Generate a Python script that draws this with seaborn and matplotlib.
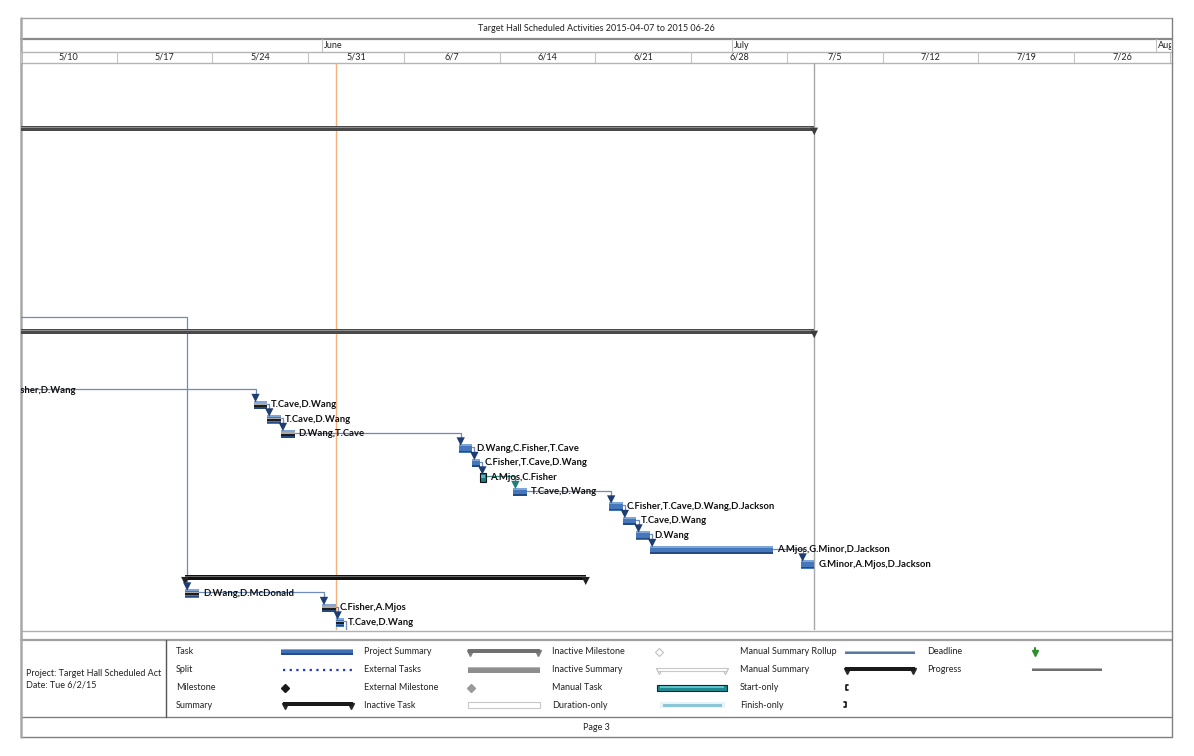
import matplotlib
matplotlib.use("Agg")
import matplotlib.pyplot as plt
import matplotlib.dates as mdates
import seaborn as sns
import pandas as pd
import numpy as np
from matplotlib.patches import Rectangle

# ---------------- data ----------------
TITLE = "Target Hall Scheduled Activities 2015-04-07 to 2015 06-26"
PROJECT_TXT = "Project: Target Hall Scheduled Act"
DATE_TXT = "Date: Tue 6/2/15"
PAGE_TXT = "Page 3"

view_start = "2015-05-10"
view_end = "2015-08-02 02:00"
status_date = "2015-06-02"
finish_date = "2015-07-07"

week_starts = ["2015-05-10", "2015-05-17", "2015-05-24", "2015-05-31", "2015-06-07",
               "2015-06-14", "2015-06-21", "2015-06-28", "2015-07-05", "2015-07-12",
               "2015-07-19", "2015-07-26"]
week_labels = ["5/10", "5/17", "5/24", "5/31", "6/7", "6/14", "6/21", "6/28",
               "7/5", "7/12", "7/19", "7/26"]
month_starts = ["2015-06-01", "2015-07-01", "2015-08-01"]
month_labels = ["June", "July", "August"]

task_rows = [4, 17, 18, 22, 23, 24, 25, 26, 27, 28, 29, 30, 31, 32, 33, 34, 35, 36, 37, 38, 40]
task_starts = ["2015-04-07", "2015-04-28", "2015-04-07", "2015-05-06", "2015-05-27",
               "2015-05-28", "2015-05-29", "2015-06-11", "2015-06-12", "2015-06-12 14:00",
               "2015-06-15", "2015-06-22", "2015-06-23", "2015-06-24", "2015-06-25",
               "2015-07-06", "2015-05-22", "2015-05-22", "2015-06-01", "2015-06-02",
               "2015-06-02 14:00"]
task_finishes = ["2015-07-07", "2015-05-05", "2015-07-07", "2015-05-08 12:00", "2015-05-28",
                 "2015-05-29", "2015-05-30", "2015-06-12", "2015-06-12 14:00", "2015-06-13",
                 "2015-06-16", "2015-06-23", "2015-06-24", "2015-06-25", "2015-07-04",
                 "2015-07-07", "2015-06-20 07:00", "2015-05-23", "2015-06-02", "2015-06-02 14:00",
                 "2015-06-04"]
task_labels = ["", "", "", "C.Fisher,D.Wang", "T.Cave,D.Wang", "T.Cave,D.Wang", "D.Wang,T.Cave",
               "D.Wang,C.Fisher,T.Cave", "C.Fisher,T.Cave,D.Wang", "A.Mjos,C.Fisher",
               "T.Cave,D.Wang", "C.Fisher,T.Cave,D.Wang,D.Jackson", "T.Cave,D.Wang", "D.Wang",
               "A.Mjos,G.Minor,D.Jackson", "G.Minor,A.Mjos,D.Jackson", "", "D.Wang,D.McDonald",
               "C.Fisher,A.Mjos", "T.Cave,D.Wang", ""]
task_kinds = ["project", "task", "project", "task", "task", "task", "task", "task", "task",
              "manual", "task", "task", "task", "task", "task", "task", "summary", "task",
              "task", "task", "task"]
task_complete = [0, 1, 0, 1, 1, 1, 1, 0, 0, 0, 0, 0, 0, 0, 0, 0, 0, 1, 1, 1, 0]

link_from = [17, 22, 23, 24, 25, 26, 27, 28, 29, 30, 31, 32, 33, 36, 37, 38]
link_to = [36, 23, 24, 25, 26, 27, 28, 29, 30, 31, 32, 33, 34, 37, 38, 40]

legend_col1 = ["Task", "Split", "Milestone", "Summary"]
legend_col2 = ["Project Summary", "External Tasks", "External Milestone", "Inactive Task"]
legend_col3 = ["Inactive Milestone", "Inactive Summary", "Manual Task", "Duration-only"]
legend_col4 = ["Manual Summary Rollup", "Manual Summary", "Start-only", "Finish-only"]
legend_col5 = ["Deadline", "Progress"]

# ---------------- style ----------------
sns.set_theme(style="white")
plt.rcParams["font.family"] = ["Lato", "DejaVu Sans"]

W, H = 1194, 756
fig = plt.figure(figsize=(W / 100, H / 100), dpi=100)


def box(x0, y0, x1, y1):
    return [x0 / W, 1 - y1 / H, (x1 - x0) / W, (y1 - y0) / H]


def dn(s):
    return mdates.date2num(pd.to_datetime(s))


df = pd.DataFrame({
    "row": task_rows,
    "start": [dn(s) for s in task_starts],
    "finish": [dn(s) for s in task_finishes],
    "label": task_labels,
    "kind": task_kinds,
    "done": task_complete,
})
df["dur"] = df["finish"] - df["start"]
X0, X1 = dn(view_start), dn(view_end)

# ---------------- gantt area ----------------
ax = fig.add_axes(box(21, 63, 1171, 630))
ax.set_xlim(X0, X1)
ax.set_ylim(38.6, -0.5)
ax.axis("off")

ax.axvline(dn(finish_date), color="#a8a8a8", lw=1.0, zorder=1)
ax.axvline(dn(status_date), color="#f6b07a", lw=1.0, zorder=2)

OFF = 0.07
BH = 0.58
tk = df[df.kind == "task"]
ax.barh(tk.row + OFF, tk.dur, left=tk.start, height=BH, color="#4677bb", edgecolor="none", zorder=3)
ax.barh(tk.row + OFF - 0.21, tk.dur, left=tk.start, height=0.13, color="#7ea6d8", edgecolor="none", zorder=4)
ax.barh(tk.row + OFF + 0.22, tk.dur, left=tk.start, height=0.13, color="#234a82", edgecolor="none", zorder=4)
dn_t = tk[tk.done > 0]
ax.barh(dn_t.row + OFF - 0.05, dn_t.dur * dn_t.done, left=dn_t.start, height=0.13,
        color="#a9a9a9", edgecolor="none", zorder=5)
ax.barh(dn_t.row + OFF + 0.08, dn_t.dur * dn_t.done, left=dn_t.start, height=0.14,
        color="#1c1c1c", edgecolor="none", zorder=5)

mt = df[df.kind == "manual"]
ax.barh(mt.row + OFF, mt.dur, left=mt.start, height=BH, color="#1d7d84", edgecolor="#111111",
        linewidth=0.8, zorder=3)
ax.barh(mt.row + OFF - 0.05, mt.dur * 0.6, left=mt.start + mt.dur * 0.2, height=0.2,
        color="#4bb8bd", edgecolor="none", zorder=4)

pj = df[df.kind == "project"]
ax.barh(pj.row, pj.dur, left=pj.start, height=0.36, color="#4a4a4a", edgecolor="none", zorder=3)
ax.barh(pj.row - 0.04, pj.dur, left=pj.start, height=0.1, color="#8e8e8e", edgecolor="none", zorder=4)
sns.scatterplot(x=pj.finish, y=pj.row + 0.22, marker="v", s=30, color="#3c3c3c",
                edgecolor="none", ax=ax, legend=False, zorder=5)

sm = df[df.kind == "summary"]
ax.barh(sm.row, sm.dur, left=sm.start, height=0.36, color="#111111", edgecolor="none", zorder=3)
ax.barh(sm.row - 0.1, sm.dur, left=sm.start, height=0.08, color="#6a6a6a", edgecolor="none", zorder=4)
caps = pd.DataFrame({"x": list(sm.start) + list(sm.finish), "y": list(sm.row + 0.22) * 2})
sns.scatterplot(data=caps, x="x", y="y", marker="v", s=34, color="#222222",
                edgecolor="none", ax=ax, legend=False, zorder=5)

# links
idx = df.set_index("row")
arrows = []
for a, b in zip(link_from, link_to):
    p, s = idx.loc[a], idx.loc[b]
    vx = s.start + 0.15
    col = "#3a8f89" if p.kind == "manual" else "#6d8cbd"
    ax.plot([p.finish, vx, vx], [a, a, b - 0.5], color=col, lw=0.9, zorder=2.5,
            solid_joinstyle="round")
    arrows.append((vx, b - 0.4, "#1f7f78" if p.kind == "manual" else "#1e3d70"))
ar = pd.DataFrame(arrows, columns=["x", "y", "c"])
for c, g in ar.groupby("c"):
    sns.scatterplot(data=g, x="x", y="y", marker="v", s=36, color=c, edgecolor="none",
                    ax=ax, legend=False, zorder=6)

for _, r in df[df.label != ""].iterrows():
    ax.text(r.finish + 0.3, r.row + 0.05, r.label, fontsize=6.8, fontweight="bold",
            color="#111111", va="center", ha="left", clip_on=True, zorder=7)
ax.set_xlabel("")
ax.set_ylabel("")

# ---------------- timescale header ----------------
hw = fig.add_axes(box(21, 51.5, 1171, 63))
hw.set_xlim(X0, X1)
hw.set_ylim(0, 1)
hw.axis("off")
for ws, wl in zip(week_starts, week_labels):
    x = dn(ws)
    hw.axvline(x, color="#c4c4c4", lw=0.8)
    hw.text(x + 3.5, 0.5, wl, ha="center", va="center", fontsize=6.5, color="#222222")
hw.axvline(dn("2015-08-02"), color="#c4c4c4", lw=0.8)

hm = fig.add_axes(box(21, 39, 1171, 51.5))
hm.set_xlim(X0, X1)
hm.set_ylim(0, 1)
hm.axis("off")
for ms, ml in zip(month_starts, month_labels):
    x = dn(ms)
    hm.axvline(x, color="#c4c4c4", lw=0.8)
    hm.text(x + 0.15, 0.45, ml, ha="left", va="center", fontsize=6.5, color="#222222",
            clip_on=True)

# ---------------- page frame & legend ----------------
fa = fig.add_axes([0, 0, 1, 1], zorder=-1)
fa.set_xlim(0, W)
fa.set_ylim(H, 0)
fa.axis("off")
for y, lw, c in [(17.5, 1.0, "#a0a0a0"), (39, 1.6, "#8a8a8a"), (51.5, 1.0, "#b4b4b4"),
                 (63.3, 1.0, "#b4b4b4"), (630.7, 1.0, "#b0b0b0"), (640, 1.6, "#a0a0a0"),
                 (716.7, 1.0, "#808080"), (737.3, 1.0, "#808080")]:
    fa.plot([20.5, 1172], [y, y], color=c, lw=lw)
fa.plot([20.8, 20.8], [17.5, 737.3], color="#a8a8a8", lw=1.8)
fa.plot([1172, 1172], [17.5, 737.3], color="#808080", lw=1.0)
fa.plot([165.7, 165.7], [640, 716.7], color="#555555", lw=1.0)

fa.text(596, 28.5, TITLE, ha="center", va="center", fontsize=6.5, color="#222222")
fa.text(596, 727.5, PAGE_TXT, ha="center", va="center", fontsize=6.5, color="#222222")
t1 = fa.text(26, 673, PROJECT_TXT, ha="left", va="center", fontsize=6.5, color="#222222")
t2 = fa.text(26, 685, DATE_TXT, ha="left", va="center", fontsize=6.5, color="#222222")
clip = Rectangle((21, 640), 144, 77, transform=fa.transData)
t1.set_clip_path(clip)

ly = [652, 670, 688, 705]
for xs, col in [(176, legend_col1), (364, legend_col2), (552, legend_col3),
                (740, legend_col4), (927, legend_col5)]:
    for y, t in zip(ly, col):
        fa.text(xs, y, t, ha="left", va="center", fontsize=6.5, color="#222222")


def lbar(x0, x1, yc, h, color, ec="none", lw=0.0, z=3):
    fa.add_patch(Rectangle((x0, yc - h / 2), x1 - x0, h, facecolor=color, edgecolor=ec,
                           linewidth=lw, zorder=z))


# col1
lbar(281, 353, 651.5, 6, "#3f70b5")
lbar(281, 353, 649.5, 1.5, "#7ea6d8", z=4)
lbar(281, 353, 654, 1.5, "#254c86", z=4)
fa.plot([283, 353], [670, 670], color="#1f35d0", lw=1.6, linestyle=(0, (1, 2)))
fa.plot([285], [687.5], marker="D", ms=4, color="#1a1a1a")
lbar(283, 353, 704, 3.5, "#1a1a1a")
fa.plot([285, 351], [705.5, 705.5], marker="v", ms=5, color="#2a2a2a", lw=0)
# col2
lbar(468, 540, 651, 3.5, "#707070")
fa.plot([470, 538], [652.5, 652.5], marker="v", ms=5, color="#808080", lw=0)
lbar(468, 540, 669.5, 6, "#8e8e8e")
lbar(468, 540, 667.5, 1.5, "#b5b5b5", z=4)
fa.plot([471], [687.5], marker="D", ms=4, color="#9a9a9a")
lbar(468, 540, 705, 6, "white", ec="#c8c8c8", lw=0.8)
# col3
fa.plot([659], [651.5], marker="D", ms=4, markerfacecolor="white", markeredgecolor="#c0c0c0",
        markeredgewidth=0.8)
lbar(657, 727, 669, 3, "white", ec="#c8c8c8", lw=0.8)
fa.plot([659, 725], [670.5, 670.5], marker="v", ms=5, markerfacecolor="white",
        markeredgecolor="#bdbdbd", lw=0, markeredgewidth=0.8)
lbar(657, 727, 687.5, 6, "#1e8a90", ec="#202020", lw=0.8)
lbar(660, 724, 686.5, 2, "#5cc4c8", z=4)
lbar(660, 725, 705, 6, "#e6f3f7")
lbar(663, 722, 705.5, 3.5, "#8cc6d8", z=4)
# col4
lbar(845, 915, 652, 3, "#5a79a2")
lbar(845, 915, 651, 1, "#9fb3cd", z=4)
lbar(845, 915, 669, 3.5, "#1a1a1a")
fa.plot([847, 913], [670.5, 670.5], marker="v", ms=5, color="#2a2a2a", lw=0)
fa.plot([848, 846, 846, 848], [685, 685, 690, 690], color="#111111", lw=1.2)
fa.plot([844, 846, 846, 844], [702, 702, 707, 707], color="#111111", lw=1.2)
# col5
fa.plot([1035, 1035], [648, 651], color="#2f8f2f", lw=1.5)
fa.plot([1035], [652.5], marker="v", ms=5, color="#2f8f2f")
lbar(1032, 1102, 669.5, 3, "#6f6f6f")
lbar(1032, 1102, 668.5, 1, "#b0b0b0", z=4)

fig.savefig("out.png", dpi=100)
